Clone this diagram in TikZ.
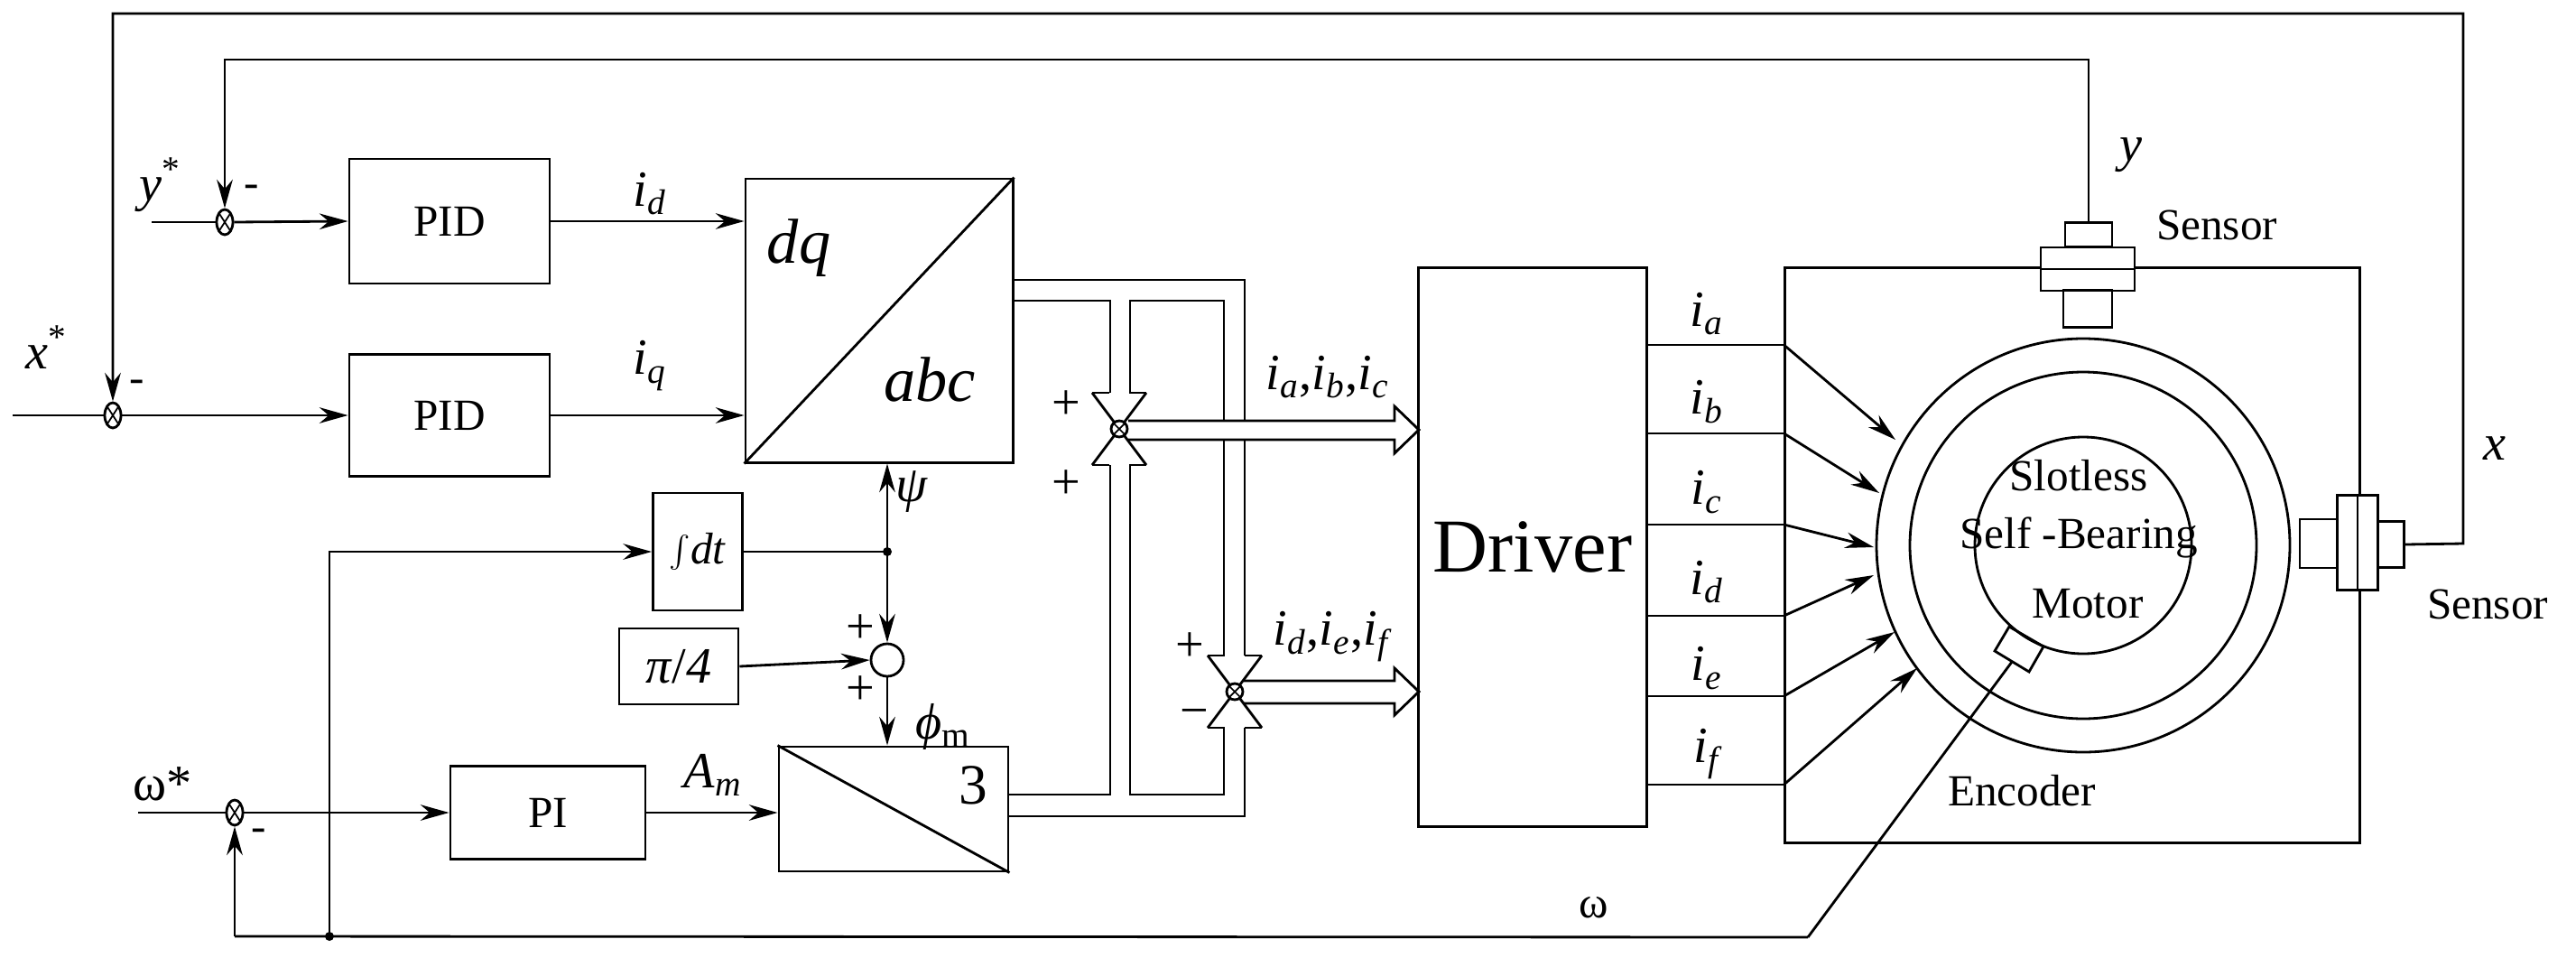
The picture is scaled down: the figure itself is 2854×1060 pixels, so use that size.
\documentclass[tikz,border=0pt]{standalone}
\usepackage{fontspec}
\setmainfont{Liberation Serif}
\usetikzlibrary{arrows.meta,calc,shapes.geometric}
\newcommand{\isub}[2]{{\itshape #1\textsubscript{#2}}}
\begin{document}
\begin{tikzpicture}[x=0.01cm,y=-0.01cm,line width=0.8pt,
  box/.style={draw,rectangle,inner sep=0pt,font=\fontsize{14}{16}\selectfont},
  sig/.style={-{Stealth[length=9pt,width=5pt]}},
  sj/.style={draw,ellipse,minimum width=0.18cm,minimum height=0.28cm,inner sep=0pt,
    path picture={\draw[line width=0.5pt] (path picture bounding box.north west)--(path picture bounding box.south east)
    (path picture bounding box.north east)--(path picture bounding box.south west);}},
  lab/.style={font=\fontsize{16}{18}\selectfont},
  txt/.style={font=\fontsize{14}{16}\selectfont}]
\useasboundingbox (0,0) rectangle (2854,1060);
% blocks
\node[box,minimum width=2.22cm,minimum height=1.38cm] (pid1) at (498,245) {PID};
\node[box,minimum width=2.22cm,minimum height=1.35cm] (pid2) at (498,460) {PID};
\node[box,minimum width=2.96cm,minimum height=3.14cm] (dq) at (974,355) {};
\draw (dq.south west)--(dq.north east);
\node[font=\fontsize{20}{22}\selectfont\itshape] at (885,275) {dq};
\node[font=\fontsize{20}{22}\selectfont\itshape] at (1030,420) {abc};
\node[box,minimum width=0.99cm,minimum height=1.30cm] (int) at (773,611) {$\int$\textit{dt}};
\node[box,minimum width=1.32cm,minimum height=0.84cm,font=\fontsize{16}{18}\selectfont] (pi4) at (752,738) {\textit{π}/\textit{4}};
\node[box,minimum width=2.16cm,minimum height=1.03cm] (pi) at (607,900) {PI};
\node[box,minimum width=2.54cm,minimum height=1.38cm] (three) at (990,896) {};
\draw (three.north west)--(three.south east);
\node[font=\fontsize{18}{20}\selectfont] at (1078,870) {3};
\node[box,minimum width=2.53cm,minimum height=6.19cm,font=\fontsize{24}{26}\selectfont] (drv) at (1698,606) {Driver};
\node[box,minimum width=6.36cm,minimum height=6.36cm] (frame) at (2296,615) {};
% summing junctions
\node[sj] (sy) at (249,246) {};
\node[sj] (sx) at (125,460) {};
\node[sj] (sw) at (260,900) {};
\node[draw,circle,minimum size=0.36cm,inner sep=0pt] (sc) at (983,731) {};
% input lines
\coordinate (yin) at (168,246);
\coordinate (xin) at (14,460);
\coordinate (win) at (153,900);
\draw (yin)--(sy.west);
\draw (xin)--(sx.west);
\draw (win)--(sw.west);
\draw[sig] (sy.east)--(pid1.west);
\draw[sig] (sx.east)--(pid2.west);
\draw[sig] (pid1.east)--(pid1.east -| dq.west);
\draw[sig] (pid2.east)--(pid2.east -| dq.west);
\draw[sig] (sw.east)--(pi.west);
\draw[sig] (pi.east)--(pi.east -| three.west);
\node[lab] at (178,205) {\textit{y}\textsuperscript{*}};
\node[lab] at (52,385) {\textit{x}\textsuperscript{*}};
\node[lab] at (180,868) {ω*};
\node[txt] at (279,212) {-};
\node[txt] at (152,428) {-};
\node[txt] at (287,925) {-};
\node[lab] at (720,215) {\isub{i}{\itshape d}};
\node[lab] at (720,405) {\isub{i}{\itshape q}};
\node[lab] at (790,858) {\isub{A}{\itshape m}};
% psi / phi
\coordinate (pj) at (983,611);
\fill (pj) circle (5);
\draw (int.east)--(pj);
\draw[sig] (pj)--(dq.south -| pj);
\draw[sig] (pj)--(sc.north);
\draw[sig] (pi4.east)--(sc.west);
\draw[sig] (sc.south)--(three.north -| sc);
\node[lab] at (1010,545) {\textit{ψ}};
\node[lab] at (1045,805) {\textit{ϕ}\textsubscript{m}};
\node[lab] at (953,697) {+};
\node[lab] at (953,765) {+};
% omega feedback
\coordinate (wb) at (365,1037);
\coordinate (wl) at (260,1037);
\coordinate (ebot) at (2003,1038);
\fill (wb) circle (5);
\draw[sig] (wl)--(sw.south);
\draw (wl)--(ebot);
\draw[sig] (wb)--(365,611)--(int.west);
\node[txt] at (1766,1005) {ω};
% bus lines
\coordinate (J1) at (1240,475);
\coordinate (J2) at (1368,766);
\draw (1122,310)--(1379,310)--(1379,726);
\draw (1122,333)--(1230,333)--(1230,435);
\draw (1252,435)--(1252,333)--(1356,333)--(1356,726);
\draw (1117,904)--(1379,904)--(1379,806);
\draw (1117,880)--(1230,880)--(1230,515);
\draw (1252,515)--(1252,880)--(1356,880)--(1356,806);
% hollow arrows
\draw[fill=white] (1250,466)--(1545,466)--(1545,450)--(1572,476)--(1545,502)--(1545,487)--(1250,487);
\draw[fill=white] (1378,754)--(1545,754)--(1545,740)--(1572,766)--(1545,792)--(1545,779)--(1378,779);
\foreach \J in {J1,J2}{
  \draw ($(\J)+(-30,-40)$)--($(\J)+(30,40)$) ($(\J)+(30,-40)$)--($(\J)+(-30,40)$);
  \draw ($(\J)+(-30,-40)$)--($(\J)+(-11,-40)$) ($(\J)+(11,-40)$)--($(\J)+(30,-40)$);
  \draw ($(\J)+(-30,40)$)--($(\J)+(-11,40)$) ($(\J)+(11,40)$)--($(\J)+(30,40)$);
  \draw[fill=white] (\J) circle (9);
  \draw[line width=0.5pt] ($(\J)+(-6,-6)$)--($(\J)+(6,6)$) ($(\J)+(6,-6)$)--($(\J)+(-6,6)$);
}
\node[lab] at (1181,449) {+};
\node[lab] at (1181,537) {+};
\node[lab] at (1318,717) {+};
\node[lab] at (1323,795) {−};
\node[lab] at (1471,418) {\isub{i}{\itshape a},\isub{i}{\itshape b},\isub{i}{\itshape c}};
\node[lab] at (1475,705) {\isub{i}{\itshape d},\isub{i}{\itshape e},\isub{i}{\itshape f}};
% motor
\coordinate (mc) at (2308,604);
\draw (mc) circle (229);
\draw (mc) circle (192);
\draw (mc) circle (120);
\node[txt] at (2303,527) {Slotless};
\node[txt] at (2303,595) {Self -Bearing};
\node[txt] at (2313,669) {Motor};
\draw (2264,716)--(2226,694)--(2210,721)--(2248,744)--cycle;
\coordinate (enc) at (2229,733);
\draw (enc)--(ebot);
\node[txt] at (2240,876) {Encoder};
% phase lines
\foreach \yy/\ex/\ey/\l/\ly in {382/2100/487/a/348, 480/2082/546/b/445, 581/2076/606/c/545, 682/2076/637/d/645, 771/2099/700/e/740, 869/2124/740/f/835}{
  \draw (drv.east |- 0,\yy)--(frame.west |- 0,\yy);
  \draw[sig] (frame.west |- 0,\yy)--(\ex,\ey);
  \node[lab] at (1891,\ly) {\isub{i}{\itshape \l}};
}
% sensors
\node[draw,minimum width=0.52cm,minimum height=0.27cm,inner sep=0pt] (ts1) at (2314,260) {};
\node[draw,fill=white,minimum width=1.04cm,minimum height=0.48cm,inner sep=0pt] (ts2) at (2313,298) {};
\node[draw,minimum width=0.54cm,minimum height=0.41cm,inner sep=0pt] (ts3) at (2313,342) {};
\draw (ts2.west)--(ts2.east);
\node[draw,minimum width=0.42cm,minimum height=0.54cm,inner sep=0pt] (rs1) at (2569,602) {};
\node[draw,fill=white,minimum width=0.45cm,minimum height=1.05cm,inner sep=0pt] (rs2) at (2612,601) {};
\draw (rs2.north)--(rs2.south);
\node[draw,minimum width=0.29cm,minimum height=0.51cm,inner sep=0pt] (rs3) at (2649,603) {};
\node[txt] at (2456,249) {Sensor};
\node[txt] at (2756,669) {Sensor};
\node[lab] at (2361,172) {\textit{y}};
\node[lab] at (2764,497) {\textit{x}};
% feedback lines
\draw[sig] (ts1.north)--(2314,66)--(249,66)--(sy.north);
\draw[sig] (rs3.east)--(2729,602)--(2729,15)--(125,15)--(sx.north);
\end{tikzpicture}
\end{document}
